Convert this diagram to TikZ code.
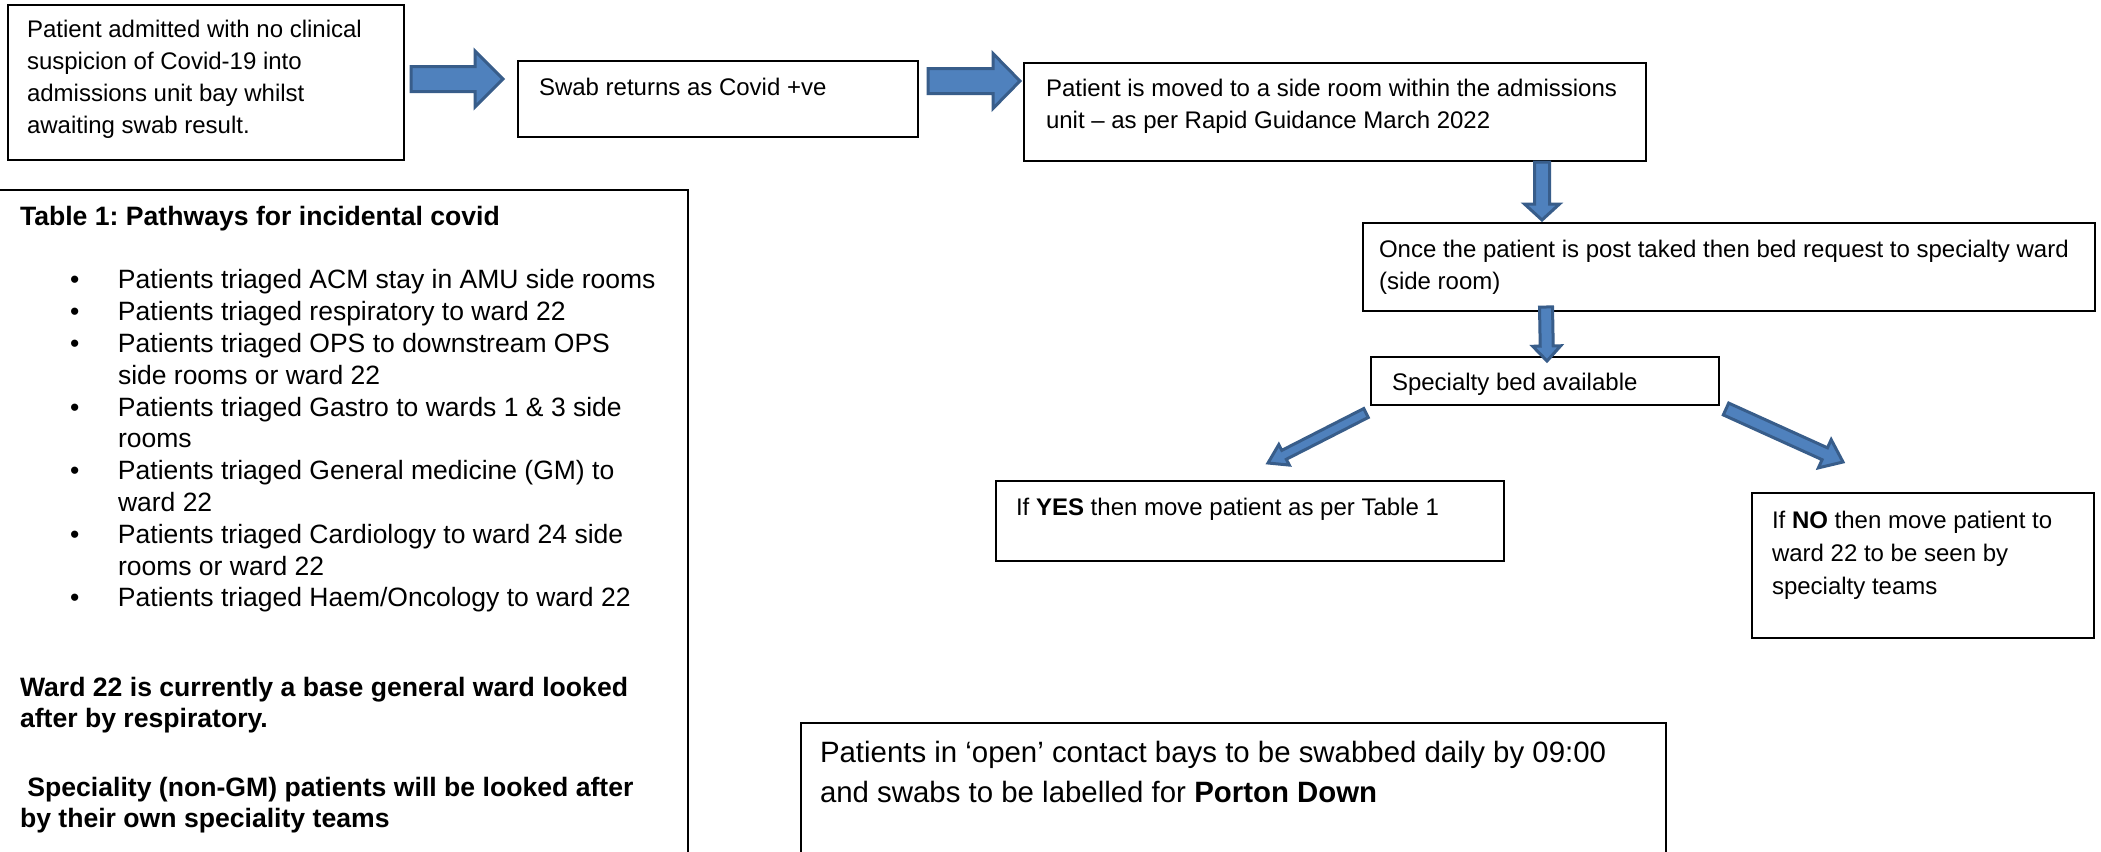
\documentclass[tikz,border=0pt]{standalone}
\usepackage{fontspec}
\setmainfont{Liberation Sans}
\usetikzlibrary{calc}
\frenchspacing
\definecolor{arrowfill}{HTML}{4F81BD}
\definecolor{arrowline}{HTML}{385D8A}
\tikzset{
  box/.style={draw=black, line width=1pt, fill=white, rectangle, inner sep=0pt, outer sep=0pt, anchor=north west},
  txt/.style={inner sep=0pt, outer sep=0pt, anchor=north west, align=left, font=\fontsize{12pt}{16pt}\selectfont},
  tabtxt/.style={inner sep=0pt, outer sep=0pt, anchor=north west, align=left, font=\fontsize{13.25pt}{15.9pt}\selectfont},
  boldtxt/.style={inner sep=0pt, outer sep=0pt, anchor=north west, align=left, font=\fontsize{13.3pt}{15.5pt}\selectfont\bfseries},
  bigtxt/.style={inner sep=0pt, outer sep=0pt, anchor=north west, align=left, font=\fontsize{14.7pt}{20pt}\selectfont},
  barrow/.style={fill=arrowfill, draw=arrowline, line width=1.5pt, line join=miter},
}
% #1 tail, #2 tip, #3 shaft half width, #4 head half width, #5 head length
\newcommand{\blockarrow}[5]{%
  \coordinate (ah) at ($(#2)!#5!(#1)$);
  \draw[barrow] ($(#1)!#3!90:(#2)$) -- ($(ah)!#3!-90:(#1)$) -- ($(ah)!#4!-90:(#1)$) -- (#2)
    -- ($(ah)!#4!90:(#1)$) -- ($(ah)!#3!90:(#1)$) -- ($(#1)!#3!-90:(#2)$) -- cycle;
}
\begin{document}
\begin{tikzpicture}[x=0.5pt,y=-0.5pt]
\useasboundingbox (0,0) rectangle (2101,852);
\fill[white] (0,0) rectangle (2101,852);
\clip (0,0) rectangle (2101,852);

% boxes
\node[box, minimum width=198pt, minimum height=77.5pt] (b1) at (8,5) {};
\node[box, minimum width=200pt, minimum height=38pt] (b2) at (518,61) {};
\node[box, minimum width=311pt, minimum height=49pt] (b3) at (1024,63) {};
\node[box, minimum width=366pt, minimum height=44pt] (b4) at (1363,223) {};
\node[box, minimum width=174pt, minimum height=24pt] (b5) at (1371,357) {};
\node[box, minimum width=254pt, minimum height=40pt] (yes) at (996,481) {};
\node[box, minimum width=171pt, minimum height=72.5pt] (no) at (1752,493) {};
\node[box, minimum width=346.5pt, minimum height=340pt] (table) at (-5,190) {};
\node[box, minimum width=432.5pt, minimum height=75pt] (swab) at (801,723) {};

% box texts
\node[txt] (t1) at (27,14.6) {\strut Patient admitted with no clinical\\suspicion of Covid-19 into\\admissions unit bay whilst\\awaiting swab result.};
\node[txt] (t2) at (539,72.6) {\strut Swab returns as Covid +ve};
\node[txt] (t3) at (1046,73.6) {\strut Patient is moved to a side room within the admissions\\unit – as per Rapid Guidance March 2022};
\node[txt] (t4) at (1379,234.6) {\strut Once the patient is post taked then bed request to specialty ward\\(side room)};
\node[txt] (t5) at (1392,367.6) {\strut Specialty bed available};
\node[txt] (t6) at (1016,492.6) {\strut If \textbf{YES} then move patient as per Table 1};
\node[txt, font=\fontsize{12pt}{16.5pt}\selectfont] (t7) at (1772,505) {\strut If \textbf{NO} then move patient to\\ward 22 to be seen by\\specialty teams};

% table texts
\node[boldtxt] (ttitle) at (20,203.3) {\strut Table 1: Pathways for incidental covid};
\node[tabtxt] (tlist) at (70,266.7) {\strut\makebox[24pt][l]{•}Patients triaged ACM stay in AMU side rooms\\
\makebox[24pt][l]{•}Patients triaged respiratory to ward 22\\
\makebox[24pt][l]{•}Patients triaged OPS to downstream OPS\\
\hspace*{24pt}side rooms or ward 22\\
\makebox[24pt][l]{•}Patients triaged Gastro to wards 1 \& 3 side\\
\hspace*{24pt}rooms\\
\makebox[24pt][l]{•}Patients triaged General medicine (GM) to\\
\hspace*{24pt}ward 22\\
\makebox[24pt][l]{•}Patients triaged Cardiology to ward 24 side\\
\hspace*{24pt}rooms or ward 22\\
\makebox[24pt][l]{•}Patients triaged Haem/Oncology to ward 22};
\node[boldtxt] (tward) at (20,674.3) {\strut Ward 22 is currently a base general ward looked\\after by respiratory.};
\node[boldtxt] (tspec) at (20,774.3) {\strut\hspace*{3.7pt}Speciality (non-GM) patients will be looked after\\by their own speciality teams};

% bottom box text
\node[bigtxt] (tswab) at (820,734) {\strut Patients in ‘open’ contact bays to be swabbed daily by 09:00\\and swabs to be labelled for \textbf{Porton Down}};

% arrows
\coordinate (a1s) at (411,79);   \coordinate (a1e) at (503,79);
\coordinate (a2s) at (928,81);   \coordinate (a2e) at (1020,81);
\coordinate (a3s) at (1542,162); \coordinate (a3e) at (1542,220);
\coordinate (a4s) at (1546,307); \coordinate (a4e) at (1547,361);
\coordinate (a5s) at (1366,413); \coordinate (a5e) at (1268,463);
\coordinate (a6s) at (1726,409); \coordinate (a6e) at (1843,462);
\blockarrow{a1s}{a1e}{6.25pt}{14pt}{14pt}
\blockarrow{a2s}{a2e}{6.25pt}{13.75pt}{13.5pt}
\blockarrow{a3s}{a3e}{3.75pt}{8.75pt}{8pt}
\blockarrow{a4s}{a4e}{3.25pt}{7pt}{7.5pt}
\blockarrow{a5s}{a5e}{2.5pt}{5.75pt}{9pt}
\blockarrow{a6s}{a6e}{3.25pt}{7.75pt}{10pt}
\end{tikzpicture}
\end{document}
